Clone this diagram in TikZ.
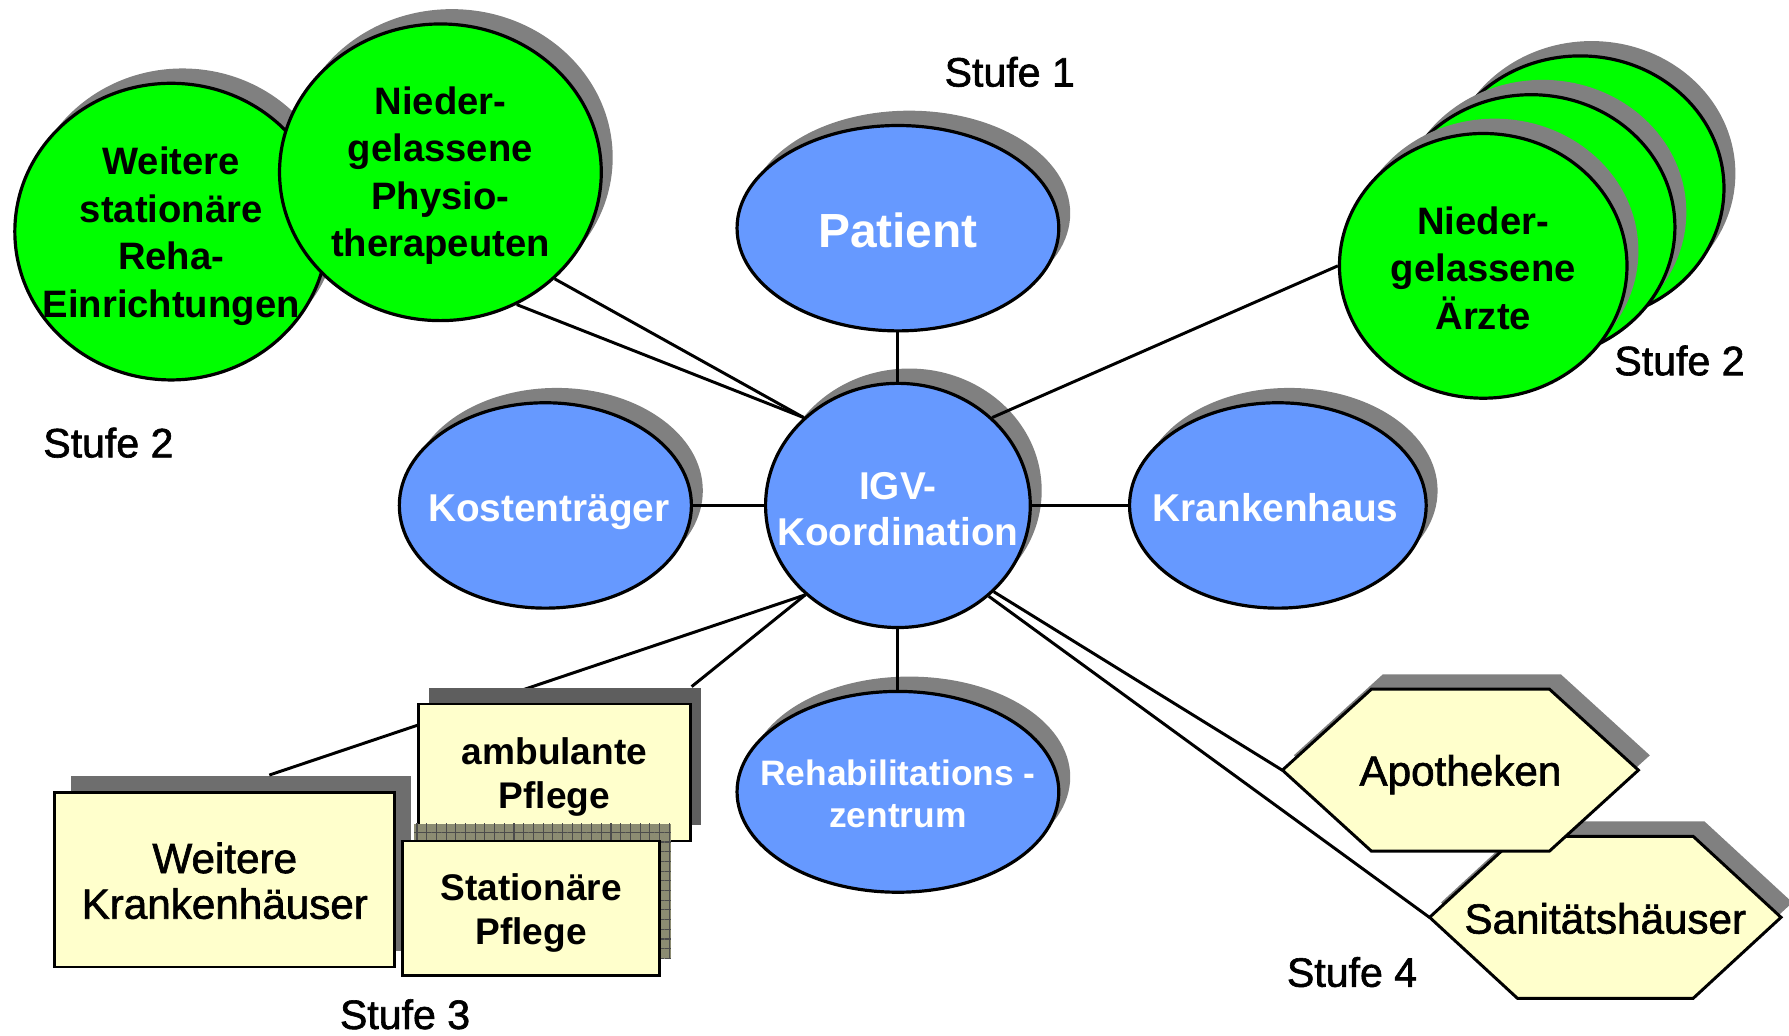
\documentclass[tikz,border=0pt]{standalone}
\usepackage{fontspec}
\setmainfont{Liberation Sans}
\newfontfamily\medfont{Liberation Sans}[FakeBold=1.5]
\usetikzlibrary{shapes.geometric,shadows,calc,patterns.meta}
\definecolor{myblue}{HTML}{6699FF}
\definecolor{mygreen}{HTML}{00FF00}
\definecolor{myyellow}{HTML}{FFFFCC}
\definecolor{shgray}{HTML}{808080}
\definecolor{boxgray}{HTML}{6E6E6E}
\definecolor{boxgraydk}{HTML}{5E5E5E}
\definecolor{olivegray}{HTML}{8C8C72}
\begin{document}
\begin{tikzpicture}[x=1pt,y=-1pt,
  conn/.style={draw=black,line width=2.6pt},
  bord/.style={draw=black,line width=2.8pt},
  shad/.style={general shadow={shadow xshift=10pt,shadow yshift=13pt,fill=shgray}},
  blueell/.style={ellipse,bord,fill=myblue,inner sep=0pt,shad},
  greenell/.style={ellipse,bord,fill=mygreen,inner sep=0pt,shad},
  wtxt/.style={text=white,font=\bfseries\fontsize{34}{40}\selectfont,align=center},
  gtxt/.style={font=\bfseries\fontsize{33.5}{41.5}\selectfont,align=center},
  boxst/.style={rectangle,draw=black,line width=2.4pt,fill=myyellow,inner sep=0pt,align=center},
  boldtxt/.style={font=\bfseries\fontsize{32.5}{39}\selectfont,align=center},
  regtxt/.style={font=\medfont\fontsize{37}{40}\selectfont,align=center},
  hexst/.style={draw=black,line width=2.6pt,fill=myyellow,line join=miter},
  hexnode/.style={rectangle,inner sep=0pt},
  stufe/.style={font=\medfont\fontsize{36}{40}\selectfont,inner sep=0pt}
]
\useasboundingbox (0,0) rectangle (1568,908);

% Stufe 2 (links): gruene Kreise
\node[greenell,minimum width=274pt,minimum height=260pt,
  label={[gtxt,yshift=-4pt]center:{Weitere\\stationäre\\Reha-\\Einrichtungen}}] (rehaein) at (150,203) {};
\node[greenell,minimum width=282pt,minimum height=260pt,
  label={[gtxt,yshift=-3pt]center:{Nieder-\\gelassene\\Physio-\\therapeuten}}] (phys) at (386,151) {};

% Stufe 1: blaue Ellipsen
\node[blueell,minimum width=282pt,minimum height=180pt,
  label={[wtxt,yshift=-2pt,font=\bfseries\fontsize{42}{48}\selectfont]center:Patient}] (pat) at (787,200) {};
\node[blueell,minimum width=256pt,minimum height=180pt,
  label={[wtxt,xshift=3pt,yshift=-6pt]center:Kostenträger}] (kost) at (478,443) {};
\node[blueell,minimum width=260pt,minimum height=180pt,
  label={[wtxt,xshift=-2pt,yshift=-2pt]center:Krankenhaus}] (kh) at (1120,443) {};
\node[blueell,minimum width=282pt,minimum height=176pt,
  label={[wtxt,yshift=-2pt,font=\bfseries\fontsize{31}{37}\selectfont]center:{Rehabilitations -\\zentrum}}] (reha) at (787,694) {};
\node[blueell,minimum width=232pt,minimum height=214pt,
  label={[wtxt,yshift=-3pt]center:{IGV-\\Koordination}}] (igv) at (787,443) {};

% Stufe 2 (rechts): Aerzte-Stapel
\node[greenell,minimum width=252pt,minimum height=232pt] (ae3) at (1385,165) {};
\node[greenell,minimum width=252pt,minimum height=232pt] (ae2) at (1342,199) {};
\node[greenell,minimum width=252pt,minimum height=232pt,
  label={[gtxt,yshift=-2pt]center:{Nieder-\\gelassene\\Ärzte}}] (ae1) at (1300,233) {};

% Stufe 3: Kaesten
\node[boxst,minimum width=298pt,minimum height=153pt,
  general shadow={shadow xshift=14pt,shadow yshift=14pt,fill=boxgray},
  label={[regtxt,yshift=-1pt]center:{Weitere\\Krankenhäuser}}] (wkh) at (197,771) {};
\draw[conn] (igv.224) -- ($(wkh.north west)!0.63!(wkh.north east)+(0,-14)$);
\node[boxst,minimum width=238pt,minimum height=120pt,
  general shadow={shadow xshift=9pt,shadow yshift=14pt,fill=boxgraydk},
  label={[boldtxt,yshift=-4pt]center:{ambulante\\Pflege}}] (amb) at (486,677) {};
\draw[conn] (igv.224) -- ($(amb.north east)+(0,-14)$);
\fill[olivegray] (363,722) rectangle (588,840);
\fill[pattern={Lines[angle=0,distance=8.5pt,line width=1pt]},pattern color=black!70] (363,722) rectangle (588,840);
\fill[pattern={Lines[angle=90,distance=8.5pt,line width=1pt]},pattern color=black!70] (363,722) rectangle (588,840);
\node[boxst,minimum width=225pt,minimum height=118pt,
  label={[boldtxt,yshift=-4pt]center:{Stationäre\\Pflege}}] (stat) at (465.5,796) {};

% Stufe 4: Sechsecke
\begin{scope}[shift={(10,-13)}]
  \fill[shgray] (1253,804) -- (1330,733) -- (1484,733) -- (1561,804) -- (1484,875) -- (1330,875) -- cycle;
\end{scope}
\path[hexst] (1253,804) -- (1330,733) -- (1484,733) -- (1561,804) -- (1484,875) -- (1330,875) -- cycle;
\begin{scope}[shift={(10,-13)}]
  \fill[shgray] (1124,675) -- (1202,604) -- (1358,604) -- (1436,675) -- (1358,746) -- (1202,746) -- cycle;
\end{scope}
\path[hexst] (1124,675) -- (1202,604) -- (1358,604) -- (1436,675) -- (1358,746) -- (1202,746) -- cycle;
\node[hexnode,minimum width=312pt,minimum height=142pt,
  label={[regtxt,yshift=-4pt]center:Apotheken}] (apo) at (1280,675) {};
\node[hexnode,minimum width=308pt,minimum height=142pt,
  label={[regtxt,yshift=-1pt]center:Sanitätshäuser}] (san) at (1407,804) {};

% Verbindungen
\draw[conn] (pat.south) -- (igv.north);
\draw[conn] (kost.east) -- (igv.west);
\draw[conn] (igv.east) -- (kh.west);
\draw[conn] (igv.south) -- (reha.north);
\draw[conn] (igv.43) -- (ae1.west);
\draw[conn] (igv.137) -- (phys.-60);
\draw[conn] (igv.137) -- (phys.-43);
\draw[conn] (igv.-42) -- (apo.west);
\draw[conn] (igv.-45) -- (san.west);

% Stufen-Beschriftungen
\node[stufe] (st1) at (885,63) {Stufe 1};
\node[stufe] (st2l) at (95,388) {Stufe 2};
\node[stufe] (st2r) at (1472,316) {Stufe 2};
\node[stufe] (st3) at (355,889) {Stufe 3};
\node[stufe] (st4) at (1185,852) {Stufe 4};
\end{tikzpicture}
\end{document}
